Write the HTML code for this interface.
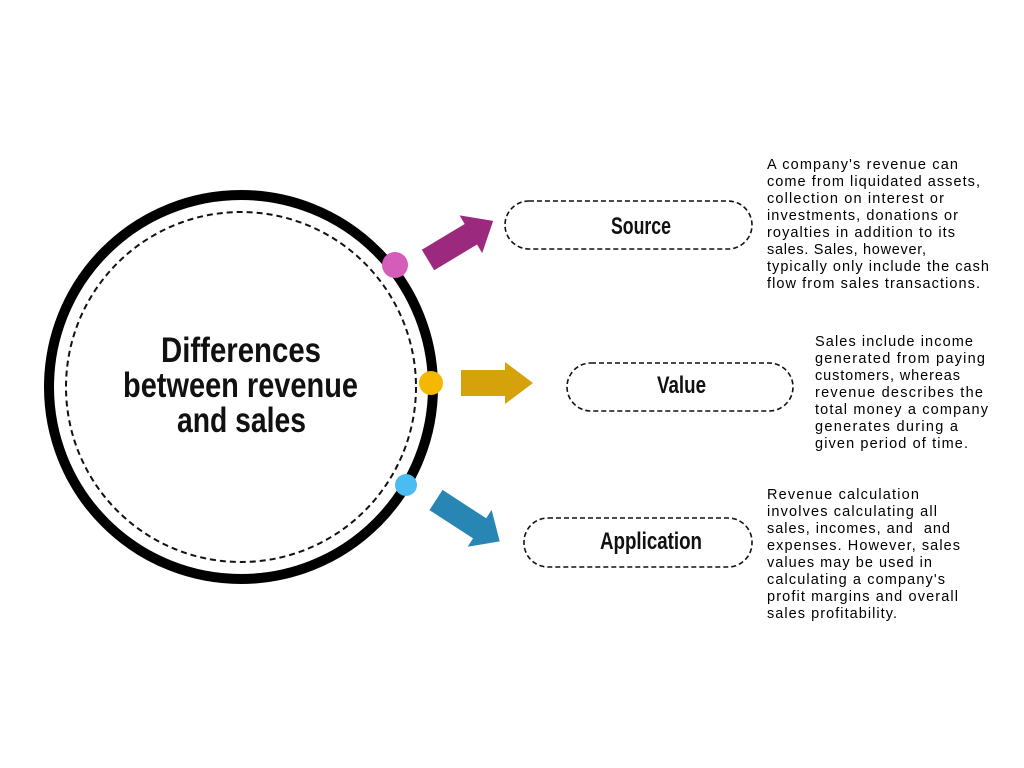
<!DOCTYPE html>
<html><head><meta charset="utf-8"><style>
html,body{margin:0;padding:0;background:#fff;}
svg{display:block}
.t{font-family:"Liberation Sans Narrow","Liberation Sans",sans-serif;font-weight:bold;fill:#111}
.b{font-family:"Liberation Sans",sans-serif;font-size:14.5px;fill:#000}
</style></head><body>
<svg width="1024" height="768" viewBox="0 0 1024 768" xmlns="http://www.w3.org/2000/svg">
<rect width="1024" height="768" fill="#fff"/>
<circle cx="241" cy="387" r="192" fill="none" stroke="#000" stroke-width="10"/>
<circle cx="241" cy="387" r="175" fill="none" stroke="#111" stroke-width="2" stroke-dasharray="6,4"/>
<text class="t" font-size="35" x="161" y="362" textLength="160" lengthAdjust="spacingAndGlyphs">Differences</text>
<text class="t" font-size="35" x="123" y="397" textLength="235" lengthAdjust="spacingAndGlyphs">between revenue</text>
<text class="t" font-size="35" x="177" y="432" textLength="129" lengthAdjust="spacingAndGlyphs">and sales</text>

<circle cx="395" cy="265" r="13" fill="#d35db8"/>
<circle cx="431" cy="383" r="12" fill="#f5b800"/>
<circle cx="406" cy="485" r="11" fill="#4bbcf2"/>

<g transform="translate(428,260) rotate(-31)">
<path d="M0,-12 L50,-12 L50,-22 L76,0 L50,22 L50,12 L0,12 Z" fill="#9b2a7f"/>
</g>
<path d="M461,370 L505,370 L505,362 L533,383 L505,404 L505,396 L461,396 Z" fill="#d5a20b"/>
<g transform="translate(436,500) rotate(33)">
<path d="M0,-12 L52,-12 L52,-22 L76,0 L52,22 L52,12 L0,12 Z" fill="#2786b3"/>
</g>

<rect x="505" y="201" width="247" height="48" rx="24" fill="none" stroke="#111" stroke-width="1.6" stroke-dasharray="5,3"/>
<rect x="567" y="363" width="226" height="48" rx="24" fill="none" stroke="#111" stroke-width="1.6" stroke-dasharray="5,3"/>
<rect x="524" y="518" width="228" height="49" rx="24" fill="none" stroke="#111" stroke-width="1.6" stroke-dasharray="5,3"/>
<text class="t" font-size="24" x="611" y="234" textLength="60" lengthAdjust="spacingAndGlyphs">Source</text>
<text class="t" font-size="24" x="657" y="393" textLength="49" lengthAdjust="spacingAndGlyphs">Value</text>
<text class="t" font-size="24" x="600" y="549" textLength="102" lengthAdjust="spacingAndGlyphs">Application</text>

<g class="b">
<text x="767" y="169" textLength="191">A company's revenue can</text>
<text x="767" y="186" textLength="213">come from liquidated assets,</text>
<text x="767" y="203" textLength="177">collection on interest or</text>
<text x="767" y="220" textLength="191">investments, donations or</text>
<text x="767" y="237" textLength="188">royalties in addition to its</text>
<text x="767" y="254" textLength="159">sales. Sales, however,</text>
<text x="767" y="271" textLength="222">typically only include the cash</text>
<text x="767" y="288" textLength="213">flow from sales transactions.</text>

<text x="815" y="346" textLength="158">Sales include income</text>
<text x="815" y="363" textLength="170">generated from paying</text>
<text x="815" y="380" textLength="145">customers, whereas</text>
<text x="815" y="397" textLength="168">revenue describes the</text>
<text x="815" y="414" textLength="173">total money a company</text>
<text x="815" y="431" textLength="143">generates during a</text>
<text x="815" y="448" textLength="153">given period of time.</text>

<text x="767" y="499" textLength="152">Revenue calculation</text>
<text x="767" y="516" textLength="170">involves calculating all</text>
<text x="767" y="533" textLength="183" xml:space="preserve">sales, incomes, and  and</text>
<text x="767" y="550" textLength="193">expenses. However, sales</text>
<text x="767" y="567" textLength="165">values may be used in</text>
<text x="767" y="584" textLength="178">calculating a company's</text>
<text x="767" y="601" textLength="191">profit margins and overall</text>
<text x="767" y="618" textLength="130">sales profitability.</text>
</g>
</svg>
</body></html>
